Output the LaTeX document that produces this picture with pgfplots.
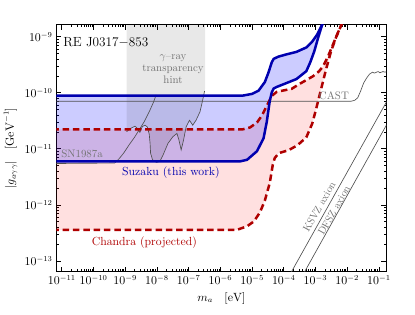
\documentclass[border=0pt]{standalone}
\usepackage{pgfplots}
\pgfplotsset{compat=1.18}
\usepgfplotslibrary{fillbetween}
\definecolor{szblue}{RGB}{0,0,175}
\definecolor{chred}{RGB}{175,0,0}
\definecolor{lgray}{RGB}{80,80,80}
\definecolor{tgray}{RGB}{115,115,115}
\begin{document}
\begin{tikzpicture}
\begin{axis}[
  scale only axis, width=303.6pt, height=227.3pt,
  xmode=log, ymode=log,
  xmin=6.745e-12, xmax=1.714e-1, ymin=6.43e-14, ymax=1.648e-9,
  xtick={1e-11,1e-10,1e-9,1e-8,1e-7,1e-6,1e-5,1e-4,1e-3,1e-2,1e-1},
  ytick={1e-13,1e-12,1e-11,1e-10,1e-9},
  tick label style={font=\fontsize{10.5}{12}\selectfont},
  label style={font=\fontsize{10.5}{12}\selectfont},
  axis line style={line width=1.2pt},
  tick style={black, line width=0.8pt},
  major tick length=4.5pt, minor tick length=2.5pt,
  xlabel={$m_a\quad[\mathrm{eV}]$},
  ylabel={$|g_{a\gamma\gamma}|\quad[\mathrm{GeV}^{-1}]$},
]
% gamma-ray transparency band
\addplot[draw=none, fill=black, fill opacity=0.09] coordinates {
(1.096e-9,3e-9) (1.096e-9,2.028e-11) (1.462e-9,2.317e-11) (2.046e-9,2.547e-11)
(2.415e-9,2.317e-11) (2.891e-9,1.972e-11) (3.459e-9,2.512e-11) (4.198e-9,2.649e-11)
(4.955e-9,2.466e-11) (5.715e-9,1.816e-11) (6.053e-9,1.262e-11) (6.281e-9,8.395e-12)
(7.244e-9,6.397e-12) (9.638e-9,5.754e-12) (1.230e-8,6.0e-12) (1.560e-8,7.834e-12)
(2.234e-8,1.262e-11) (3.192e-8,1.656e-11) (4.256e-8,1.892e-11) (4.920e-8,1.442e-11)
(5.794e-8,9.594e-12) (6.887e-8,1.442e-11) (8.299e-8,2.483e-11) (1.059e-7,3.243e-11)
(1.343e-7,2.649e-11) (1.702e-7,3.243e-11) (2.265e-7,4.571e-11) (2.748e-7,7.311e-11)
(3.177e-7,1.084e-10) (3.289e-7,1.2e-10) (3.289e-7,3e-9)} -- cycle;

% Chandra curves
\addplot[name path=chup, draw=none] coordinates {
(5e-12,2.223e-11) (4.842e-6,2.223e-11) (8.610e-6,2.415e-11) (1.422e-5,2.958e-11)
(2.032e-5,3.926e-11) (2.911e-5,5.902e-11) (4.169e-5,8.851e-11) (5.970e-5,1.042e-10)
(9.863e-5,1.107e-10) (1.750e-4,1.178e-10) (3.105e-4,1.442e-10) (5.129e-4,1.694e-10)
(8.472e-4,1.995e-10) (1.303e-3,2.443e-10) (1.738e-3,2.992e-10) (2.489e-3,4.498e-10)
(3.556e-3,7.311e-10) (5.093e-3,1.191e-9) (6.792e-3,1.718e-9) (7.586e-3,2.089e-9)};
\addplot[name path=chlo, draw=none] coordinates {
(5e-12,3.606e-13) (3.388e-6,3.606e-13) (6.934e-6,4.159e-13) (1.146e-5,5.093e-13)
(1.762e-5,7.345e-13) (2.523e-5,1.197e-12) (3.614e-5,2.483e-12) (4.477e-5,5.164e-12)
(5.164e-5,6.855e-12) (6.887e-5,8.395e-12) (1.413e-4,9.484e-12) (2.692e-4,1.161e-11)
(5.129e-4,1.607e-11) (7.889e-4,2.838e-11) (1.052e-3,5.224e-11) (1.507e-3,1.178e-10)
(2.153e-3,2.649e-10) (3.083e-3,5.508e-10) (4.416e-3,9.727e-10) (6.792e-3,1.718e-9)
(7.586e-3,2.089e-9)};
\addplot[fill=red, fill opacity=0.12, draw=none] fill between[of=chup and chlo];

% Suzaku curves
\addplot[name path=szup, draw=none] coordinates {
(5e-12,8.9e-11) (4.842e-6,8.9e-11) (9.93e-6,9.59e-11) (1.607e-5,1.099e-10)
(2.523e-5,1.563e-10) (3.289e-5,2.317e-10) (4.169e-5,3.524e-10) (4.808e-5,4.055e-10)
(6.745e-5,4.436e-10) (1.222e-4,4.875e-10) (2.506e-4,5.395e-10) (5.129e-4,6.471e-10)
(7.889e-4,8.260e-10) (1.130e-3,1.099e-9) (1.618e-3,1.648e-9) (1.866e-3,2.188e-9)};
\addplot[name path=szlo, draw=none] coordinates {
(5e-12,6.0e-12) (4.198e-6,6.0e-12) (6.934e-6,6.397e-12) (1.422e-5,9.1e-12)
(2.296e-5,1.545e-11) (2.911e-5,3.083e-11) (3.614e-5,7.228e-11) (4.169e-5,1.021e-10)
(4.808e-5,1.2e-10) (5.970e-5,1.276e-10) (1.222e-4,1.5e-10) (2.506e-4,1.766e-10)
(5.129e-4,2.443e-10) (6.839e-4,3.524e-10) (9.12e-4,5.508e-10) (1.213e-3,9.727e-10)
(1.618e-3,1.648e-9) (1.866e-3,2.104e-9)};
\addplot[fill=blue, fill opacity=0.2, draw=none] fill between[of=szup and szlo];

% thin gray lines
\addplot[lgray, line width=0.6pt] coordinates {
(5e-12,7.079e-11) (1.294e-2,7.079e-11) (1.726e-2,7.379e-11) (2.138e-2,8.166e-11)
(2.655e-2,1.084e-10) (3.289e-2,1.5e-10) (4.083e-2,1.841e-10) (5.058e-2,2.163e-10)
(6.281e-2,2.344e-10) (7.079e-2,2.265e-10) (7.78e-2,2.29e-10) (8.71e-2,2.37e-10)
(9.638e-2,2.393e-10) (1.072e-1,2.29e-10) (1.197e-1,2.344e-10) (1.349e-1,2.404e-10)
(1.483e-1,2.355e-10) (1.714e-1,2.37e-10)};
\addplot[lgray, line width=0.6pt] coordinates {
(5e-12,5.483e-12) (4.645e-10,5.598e-12) (6.637e-10,6.855e-12) (8.851e-10,8.395e-12)
(1.361e-9,1.211e-11) (1.950e-9,1.607e-11) (2.786e-9,2.223e-11) (3.990e-9,3.083e-11)
(5.715e-9,4.624e-11) (7.621e-9,6.668e-11) (9.441e-9,9.226e-11)};
\addplot[lgray, line width=0.6pt] coordinates {
(1.096e-9,2.028e-11) (1.462e-9,2.317e-11) (2.046e-9,2.547e-11)
(2.415e-9,2.317e-11) (2.891e-9,1.972e-11) (3.459e-9,2.512e-11) (4.198e-9,2.649e-11)
(4.955e-9,2.466e-11) (5.715e-9,1.816e-11) (6.053e-9,1.262e-11) (6.281e-9,8.395e-12)
(7.244e-9,6.397e-12) (9.638e-9,5.754e-12) (1.230e-8,6.0e-12) (1.560e-8,7.834e-12)
(2.234e-8,1.262e-11) (3.192e-8,1.656e-11) (4.256e-8,1.892e-11) (4.920e-8,1.442e-11)
(5.794e-8,9.594e-12) (6.887e-8,1.442e-11) (8.299e-8,2.483e-11) (1.059e-7,3.243e-11)
(1.343e-7,2.649e-11) (1.702e-7,3.243e-11) (2.265e-7,4.571e-11) (2.748e-7,7.311e-11)
(3.177e-7,1.084e-10)};
% axion lines
\addplot[lgray, line width=0.6pt] coordinates {(1.5e-4,5.5e-14) (0.2,8.0e-11)};
\addplot[lgray, line width=0.6pt] coordinates {(4.0e-4,5.65e-14) (0.2,3.1e-11)};

% Chandra lines (drawn)
\addplot[chred, line width=2.3pt, dash pattern=on 6pt off 3.5pt] coordinates {
(5e-12,2.223e-11) (4.842e-6,2.223e-11) (8.610e-6,2.415e-11) (1.422e-5,2.958e-11)
(2.032e-5,3.926e-11) (2.911e-5,5.902e-11) (4.169e-5,8.851e-11) (5.970e-5,1.042e-10)
(9.863e-5,1.107e-10) (1.750e-4,1.178e-10) (3.105e-4,1.442e-10) (5.129e-4,1.694e-10)
(8.472e-4,1.995e-10) (1.303e-3,2.443e-10) (1.738e-3,2.992e-10) (2.489e-3,4.498e-10)
(3.556e-3,7.311e-10) (5.093e-3,1.191e-9) (6.792e-3,1.718e-9) (7.586e-3,2.089e-9)};
\addplot[chred, line width=2.3pt, dash pattern=on 6pt off 3.5pt] coordinates {
(5e-12,3.606e-13) (3.388e-6,3.606e-13) (6.934e-6,4.159e-13) (1.146e-5,5.093e-13)
(1.762e-5,7.345e-13) (2.523e-5,1.197e-12) (3.614e-5,2.483e-12) (4.477e-5,5.164e-12)
(5.164e-5,6.855e-12) (6.887e-5,8.395e-12) (1.413e-4,9.484e-12) (2.692e-4,1.161e-11)
(5.129e-4,1.607e-11) (7.889e-4,2.838e-11) (1.052e-3,5.224e-11) (1.507e-3,1.178e-10)
(2.153e-3,2.649e-10) (3.083e-3,5.508e-10) (4.416e-3,9.727e-10) (6.792e-3,1.718e-9)
(7.586e-3,2.089e-9)};
% Suzaku lines
\addplot[szblue, line width=2.3pt] coordinates {
(5e-12,8.9e-11) (4.842e-6,8.9e-11) (9.93e-6,9.59e-11) (1.607e-5,1.099e-10)
(2.523e-5,1.563e-10) (3.289e-5,2.317e-10) (4.169e-5,3.524e-10) (4.808e-5,4.055e-10)
(6.745e-5,4.436e-10) (1.222e-4,4.875e-10) (2.506e-4,5.395e-10) (5.129e-4,6.471e-10)
(7.889e-4,8.260e-10) (1.130e-3,1.099e-9) (1.618e-3,1.648e-9) (1.866e-3,2.188e-9)};
\addplot[szblue, line width=2.3pt] coordinates {
(5e-12,6.0e-12) (4.198e-6,6.0e-12) (6.934e-6,6.397e-12) (1.422e-5,9.1e-12)
(2.296e-5,1.545e-11) (2.911e-5,3.083e-11) (3.614e-5,7.228e-11) (4.169e-5,1.021e-10)
(4.808e-5,1.2e-10) (5.970e-5,1.276e-10) (1.222e-4,1.5e-10) (2.506e-4,1.766e-10)
(5.129e-4,2.443e-10) (6.839e-4,3.524e-10) (9.12e-4,5.508e-10) (1.213e-3,9.727e-10)
(1.618e-3,1.648e-9) (1.866e-3,2.104e-9)};

% labels
\node[font=\fontsize{12.2}{14}\selectfont] at (rel axis cs:0.1497,0.928) {RE J0317$-$853};
\node[font=\fontsize{10}{11.4}\selectfont, text=tgray, align=center] at (rel axis cs:0.3533,0.82) {$\gamma$--ray\\transparency\\hint};
\node[font=\fontsize{10}{11}\selectfont, text=tgray] at (rel axis cs:0.0778,0.476) {SN1987a};
\node[font=\fontsize{10.8}{12}\selectfont, text=szblue] at (rel axis cs:0.347,0.40) {Suzaku (this work)};
\node[font=\fontsize{10.8}{12}\selectfont, text=chred] at (rel axis cs:0.2665,0.12) {Chandra (projected)};
\node[font=\fontsize{10}{11}\selectfont, text=tgray, anchor=east] at (rel axis cs:0.898,0.714) {CAST};
\node[font=\fontsize{9.5}{11}\selectfont, text=tgray, rotate=60.7, inner sep=1pt] at (rel axis cs:0.7964,0.262) {KSVZ axion};
\node[font=\fontsize{9.5}{11}\selectfont, text=tgray, rotate=60.7, inner sep=1pt] at (rel axis cs:0.8413,0.248) {DFSZ axion};

\coordinate (bbA) at (rel axis cs:-0.1557,-0.172);
\coordinate (bbB) at (rel axis cs:1.0868,1.1);
\end{axis}
\path (bbA) rectangle (bbB);
\end{tikzpicture}
\end{document}
